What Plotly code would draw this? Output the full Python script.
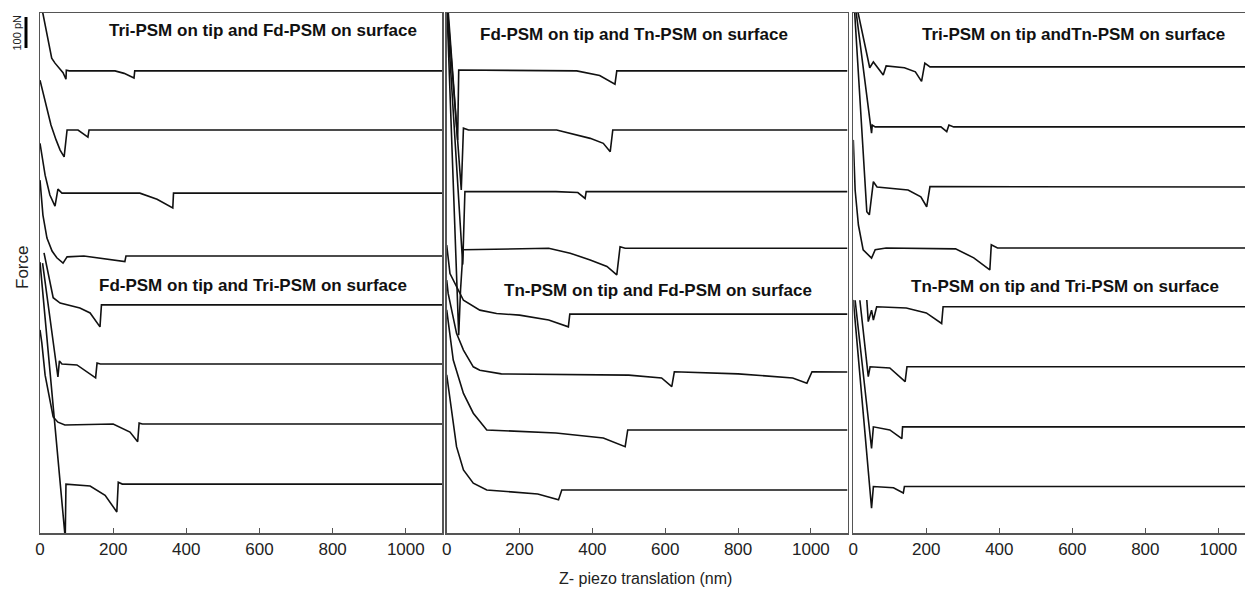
import plotly.graph_objects as go

# ---------------- data (x in nm, force in pN relative to each curve's baseline) ----------------
titles = ["Tri-PSM on tip and Fd-PSM on surface", "Fd-PSM on tip and Tri-PSM on surface",
          "Fd-PSM on tip and Tn-PSM on surface", "Tn-PSM on tip and Fd-PSM on surface",
          "Tri-PSM on tip andTn-PSM on surface", "Tn-PSM on tip and Tri-PSM on surface"]
tick_vals = [0, 200, 400, 600, 800, 1000]

# baselines (pN) of the 8 stacked curves in each panel
offsets_left = [1493, 1302, 1098, 895, 737, 546, 352, 158]
offsets_mid = [1493, 1302, 1103, 920, 707, 520, 333, 139]
offsets_right = [1506, 1312, 1118, 921, 731, 537, 343, 150]

# left panel
L1_x = [0, 32, 41, 49, 63, 71, 72, 80, 205, 230, 257, 259, 1100]
L1_y = [233, 41, 25, 14, -6, -27, 2, 0, 0, -8, -23, 0, 0]
L2_x = [0, 30, 44, 55, 66, 74, 104, 131, 134, 1100]
L2_y = [161, 16, -32, -65, -87, 0, 0, -23, 0, 0]
L3_x = [0, 14, 27, 41, 49, 60, 273, 320, 363, 365, 1100]
L3_y = [161, 58, -6, -42, 13, 0, 0, -20, -48, 0, 0]
L4_x = [0, 8, 19, 33, 46, 63, 74, 120, 232, 235, 1100]
L4_y = [245, 132, 58, 16, -6, -23, -3, 0, -18, 0, 0]
L5_x = [11, 36, 55, 109, 137, 164, 168, 1100]
L5_y = [168, 23, 6, -10, -26, -71, 0, 0]
L6_x = [7, 49, 53, 60, 101, 152, 156, 165, 1100]
L6_y = [326, -42, 10, 0, -3, -45, 3, 0, 0]
L7_x = [0, 5, 14, 27, 36, 49, 68, 200, 246, 267, 271, 280, 1100]
L7_y = [304, 262, 158, 78, 23, 6, -3, 0, -26, -57, 3, 0, 0]
L8_x = [0, 50, 69, 71, 137, 178, 210, 214, 225, 1100]
L8_y = [717, 71, -175, 0, -6, -36, -90, 6, 0, 0]

# middle panel
M1_x = [0, 30, 33, 357, 420, 462, 467, 1100]
M1_y = [230, -223, 3, 0, -15, -43, 0, 0]
M2_x = [0, 40, 46, 60, 302, 394, 430, 449, 456, 1100]
M2_y = [450, -194, 6, 0, 0, -27, -43, -70, 0, 0]
M3_x = [0, 44, 50, 300, 360, 380, 383, 1100]
M3_y = [600, -236, 0, 0, -3, -22, 0, 0]
M4_x = [0, 33, 38, 45, 280, 339, 394, 440, 467, 476, 490, 1100]
M4_y = [800, -281, -135, -5, 0, -16, -38, -59, -86, 5, 0, 0]
M5_x = [0, 9, 46, 91, 137, 200, 280, 334, 338, 1100]
M5_y = [223, 131, 45, 13, 2, -3, -19, -41, 0, 0]
M6_x = [0, 4, 27, 46, 73, 91, 150, 500, 590, 618, 625, 800, 950, 989, 1003, 1100]
M6_y = [297, 254, 125, 71, 17, 6, -6, -10, -19, -47, 1, -6, -19, -36, 1, 0]
M7_x = [0, 18, 46, 73, 110, 300, 430, 490, 497, 1100]
M7_y = [388, 226, 118, 54, 0, -10, -26, -54, 0, 0]
M8_x = [0, 9, 27, 46, 73, 110, 250, 307, 316, 1100]
M8_y = [372, 291, 140, 65, 22, 0, -13, -32, 0, 0]

# right panel
R1_x = [0, 45, 55, 82, 90, 140, 170, 187, 196, 210, 1100]
R1_y = [248, -3, 16, -26, 3, -3, -16, -47, 12, 0, 0]
R2_x = [0, 50, 52, 60, 240, 256, 262, 275, 1100]
R2_y = [443, -20, 6, 0, 0, -15, 6, 0, 0]
R3_x = [0, 37, 44, 55, 65, 150, 185, 201, 210, 1100]
R3_y = [636, -80, -90, 17, 0, -10, -32, -64, 1, 0]
R4_x = [0, 5, 14, 27, 50, 60, 90, 280, 330, 374, 378, 395, 1100]
R4_y = [349, 187, 74, -6, -33, -6, 0, -3, -32, -71, 10, 0, 0]
R5_x = [37, 41, 50, 55, 64, 145, 200, 242, 246, 1100]
R5_y = [22, -48, -11, -43, 0, -4, -20, -54, 0, 0]
R6_x = [18, 41, 46, 100, 142, 147, 1100]
R6_y = [215, -32, 0, -4, -48, 0, 0]
R7_x = [5, 50, 55, 100, 133, 135, 1100]
R7_y = [409, -70, 0, -10, -38, 0, 0]
R8_x = [0, 50, 55, 110, 137, 140, 1100]
R8_y = [603, -70, 0, -4, -21, 0, 0]

panels = [
    ("x", "y", offsets_left, [(L1_x, L1_y), (L2_x, L2_y), (L3_x, L3_y), (L4_x, L4_y),
                              (L5_x, L5_y), (L6_x, L6_y), (L7_x, L7_y), (L8_x, L8_y)]),
    ("x2", "y2", offsets_mid, [(M1_x, M1_y), (M2_x, M2_y), (M3_x, M3_y), (M4_x, M4_y),
                               (M5_x, M5_y), (M6_x, M6_y), (M7_x, M7_y), (M8_x, M8_y)]),
    ("x3", "y3", offsets_right, [(R1_x, R1_y), (R2_x, R2_y), (R3_x, R3_y), (R4_x, R4_y),
                                 (R5_x, R5_y), (R6_x, R6_y), (R7_x, R7_y), (R8_x, R8_y)]),
]

fig = go.Figure()
for xa, ya, offs, curves in panels:
    for off, (cx, cy) in zip(offs, curves):
        fig.add_trace(go.Scatter(x=cx, y=[v + off for v in cy], xaxis=xa, yaxis=ya,
                                 mode="lines", line=dict(color="#111111", width=1.6),
                                 showlegend=False, hoverinfo="skip"))

FONT = "Liberation Sans, Arial, sans-serif"
W, H = 1245, 590
ml, mr, mt, mb = 40, 0, 13, 57
pw = W - ml - mr
Y_RANGE = [0, 1680]

def px_x(p):
    return (p - ml) / pw

doms = [[0, px_x(442)], [px_x(446.7), px_x(847.7)], [px_x(853.3), 1.0]]
xranges = [[0, 1099], [0, 1101], [0, 1073]]

axcommon = dict(showgrid=False, zeroline=False, showline=True, linecolor="#555555", linewidth=1.5)
layout = dict(width=W, height=H, margin=dict(l=ml, r=mr, t=mt, b=mb),
              plot_bgcolor="white", paper_bgcolor="white", hovermode=False,
              font=dict(family=FONT, color="#222222"), showlegend=False)
for i in range(3):
    sx = "" if i == 0 else str(i + 1)
    layout["xaxis" + sx] = dict(domain=doms[i], range=xranges[i], anchor="y" + sx, mirror=True,
                                tickvals=tick_vals, ticks="inside", ticklen=5, tickcolor="#555555",
                                tickfont=dict(size=17, family=FONT, color="#222222"), **axcommon)
    layout["yaxis" + sx] = dict(domain=[0, 1], range=Y_RANGE, anchor="x" + sx,
                                mirror=(i < 2), showticklabels=False, ticks="", **axcommon)
fig.update_layout(**layout)

# panel titles (bold), positioned in data coordinates of each panel
title_pos = [("x", "y", 610, 1622), ("x", "y", 581, 801),
             ("x2", "y2", 515, 1609), ("x2", "y2", 579, 785),
             ("x3", "y3", 604, 1612), ("x3", "y3", 579, 795)]
for t, (xa, ya, xv, yv) in zip(titles, title_pos):
    fig.add_annotation(text="<b>%s</b>" % t, x=xv, y=yv, xref=xa, yref=ya, showarrow=False,
                       xanchor="center", yanchor="middle",
                       font=dict(size=17, family=FONT, color="#111111"))

# axis titles
fig.add_annotation(text="Z- piezo translation (nm)", x=px_x(645), y=-(578 - 533) / 520,
                   xref="paper", yref="paper", showarrow=False, xanchor="center", yanchor="middle",
                   font=dict(size=16, family=FONT, color="#222222"))
fig.add_annotation(text="Force", x=px_x(22), y=(533 - 268) / 520, xref="paper", yref="paper",
                   textangle=-90, showarrow=False, xanchor="center", yanchor="middle",
                   font=dict(size=17, family=FONT, color="#222222"))

# 100 pN scale bar
fig.add_shape(type="line", xref="paper", yref="y", x0=px_x(26), x1=px_x(26), y0=1567, y1=1667,
              line=dict(color="black", width=3))
fig.add_annotation(text="100 pN", x=px_x(16), y=1617, xref="paper", yref="y", textangle=-90,
                   showarrow=False, xanchor="center", yanchor="middle",
                   font=dict(size=11, family=FONT, color="#222222"))

fig.write_html("out.html", config={"displayModeBar": False, "staticPlot": True})
with open("out.html", encoding="utf-8") as f:
    html = f.read()
html = html.replace("<body>", '<body style="margin:0;padding:0;overflow:hidden">', 1)
with open("out.html", "w", encoding="utf-8") as f:
    f.write(html)
